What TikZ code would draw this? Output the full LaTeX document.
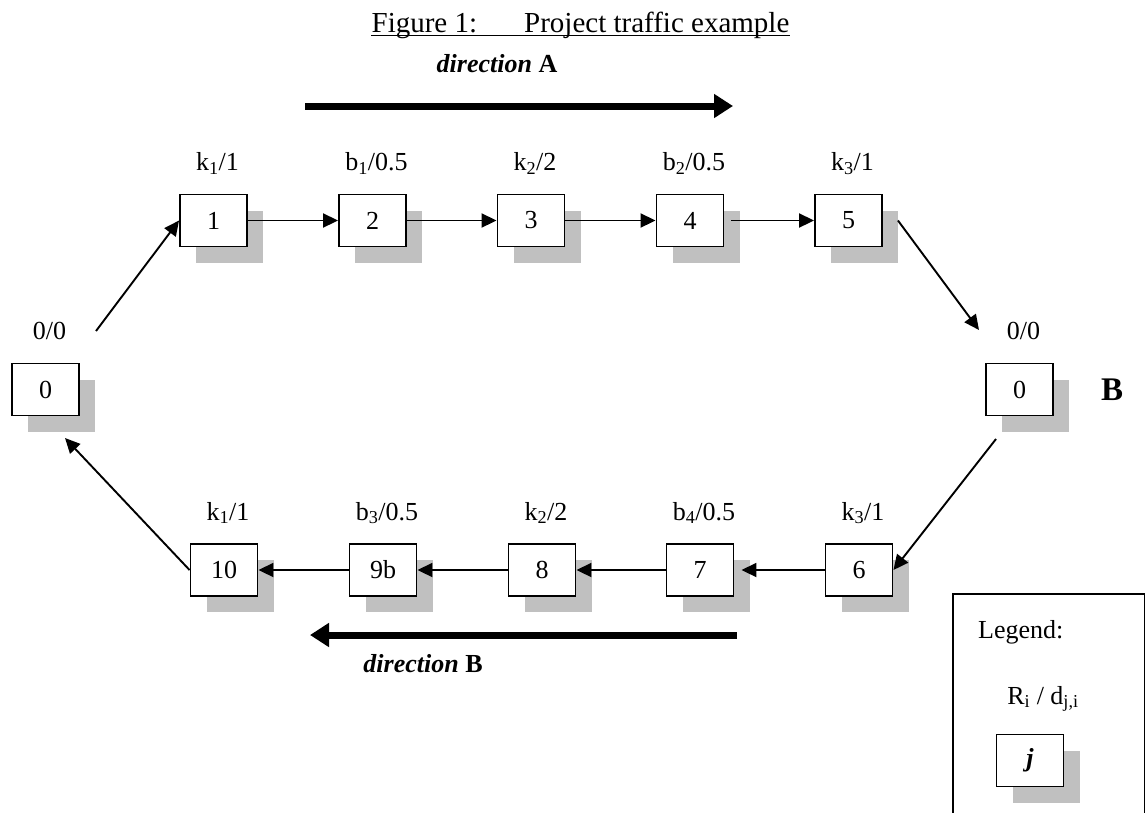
\documentclass[tikz,border=0pt]{standalone}
\usepackage{fontspec}
\setmainfont{Liberation Serif}
\usetikzlibrary{arrows.meta,shadows}
\definecolor{shadegray}{RGB}{192,192,192}
\newcommand\lowidx[1]{\textsubscript{#1}}
\begin{document}
\begin{tikzpicture}[x=1pt,y=-1pt,
  every node/.style={font=\fontsize{26}{30}\selectfont},
  box/.style={draw, line width=1.9pt, fill=white, minimum width=67pt,
    minimum height=52pt, inner sep=0pt,
    drop shadow={shadow xshift=16pt, shadow yshift=-16pt, fill=shadegray, opacity=1}},
  lbl/.style={anchor=base, inner sep=0pt},
  conn/.style={line width=1.9pt, -{Triangle[length=15pt,width=14pt]}},
  bigarrow/.style={line width=7pt, -{Triangle[length=19pt,width=23pt]}},
]
\clip (0,0) rectangle (1145,812);

% title and direction labels
\node[anchor=base, inner sep=0pt, font=\fontsize{29}{33}\selectfont] (title) at (580.5,32)
  {Figure 1:\hspace{47pt}Project traffic example};
\draw[line width=1.5pt] ([yshift=-3.5pt]title.base west) -- ([yshift=-3.5pt]title.base east);
\node[lbl] (dirA) at (497,72) {\textbf{\textit{direction}} \textbf{A}};
\node[lbl] (dirB) at (423,672) {\textbf{\textit{direction}} \textbf{B}};
\node[lbl, font=\fontsize{33}{38}\selectfont\bfseries] (sideB) at (1112,400) {B};

% direction arrows
\coordinate (dirAs) at (305,106);
\coordinate (dirAe) at (733,106);
\coordinate (dirBs) at (737,635);
\coordinate (dirBe) at (310,635);
\draw[bigarrow] (dirAs) -- (dirAe);
\draw[bigarrow] (dirBs) -- (dirBe);

% activity boxes
\node[box] (b1) at (213.5,220.5) {1};
\node[box] (b2) at (372.5,220.5) {2};
\node[box] (b3) at (531,220.5) {3};
\node[box] (b4) at (690,220.5) {4};
\node[box] (b5) at (848.5,220.5) {5};
\node[box] (L0) at (45.5,389.5) {0};
\node[box] (R0) at (1019.5,389.5) {0};
\node[box] (b10) at (224,570) {10};
\node[box] (b9) at (383,570) {9b};
\node[box] (b8) at (542,570) {8};
\node[box] (b7) at (700,570) {7};
\node[box] (b6) at (859,570) {6};

% resource / duration labels
\foreach \n/\t in {b1/{k\lowidx{1}/1}, b2/{b\lowidx{1}/0.5}, b3/{k\lowidx{2}/2},
    b4/{b\lowidx{2}/0.5}, b5/{k\lowidx{3}/1}, L0/{0/0}, R0/{0/0},
    b10/{k\lowidx{1}/1}, b9/{b\lowidx{3}/0.5}, b8/{k\lowidx{2}/2},
    b7/{b\lowidx{4}/0.5}, b6/{k\lowidx{3}/1}}
  \node[lbl] (l-\n) at ([shift={(4pt,50pt)}]\n.center) {\t};

% connectors, direction A
\coordinate (L0out) at (96,331);
\coordinate (R0in) at (979,330);
\draw[conn] (L0out) -- (b1.west);
\draw[conn] (b1.east) -- (b2.west);
\draw[conn] (b2.east) -- (b3.west);
\draw[conn] (b3.east) -- (b4.west);
\draw[conn] ([xshift=7pt]b4.east) -- (b5.west);
\draw[conn] ([xshift=15pt]b5.east) -- (R0in);

% connectors, direction B
\coordinate (R0out) at (996,439);
\coordinate (L0in) at (65,438);
\draw[conn] (R0out) -- (b6.east);
\draw[conn] (b6.west) -- ([xshift=7pt]b7.east);
\draw[conn] (b7.west) -- (b8.east);
\draw[conn] (b8.west) -- (b9.east);
\draw[conn] (b9.west) -- (b10.east);
\draw[conn] (b10.west) -- (L0in);

% legend
\node[draw, line width=1.5pt, anchor=north west, minimum width=192pt,
  minimum height=260pt, inner sep=0pt] (legend) at (952,593) {};
\node[anchor=base west, inner sep=0pt] (legtitle) at (978,638) {Legend:};
\node[lbl] (legfmt) at (1043,704) {R\lowidx{i} / d\lowidx{j,i}};
\node[box] (legbox) at (1030,760.5) {\textbf{\textit{j}}};
\end{tikzpicture}
\end{document}
